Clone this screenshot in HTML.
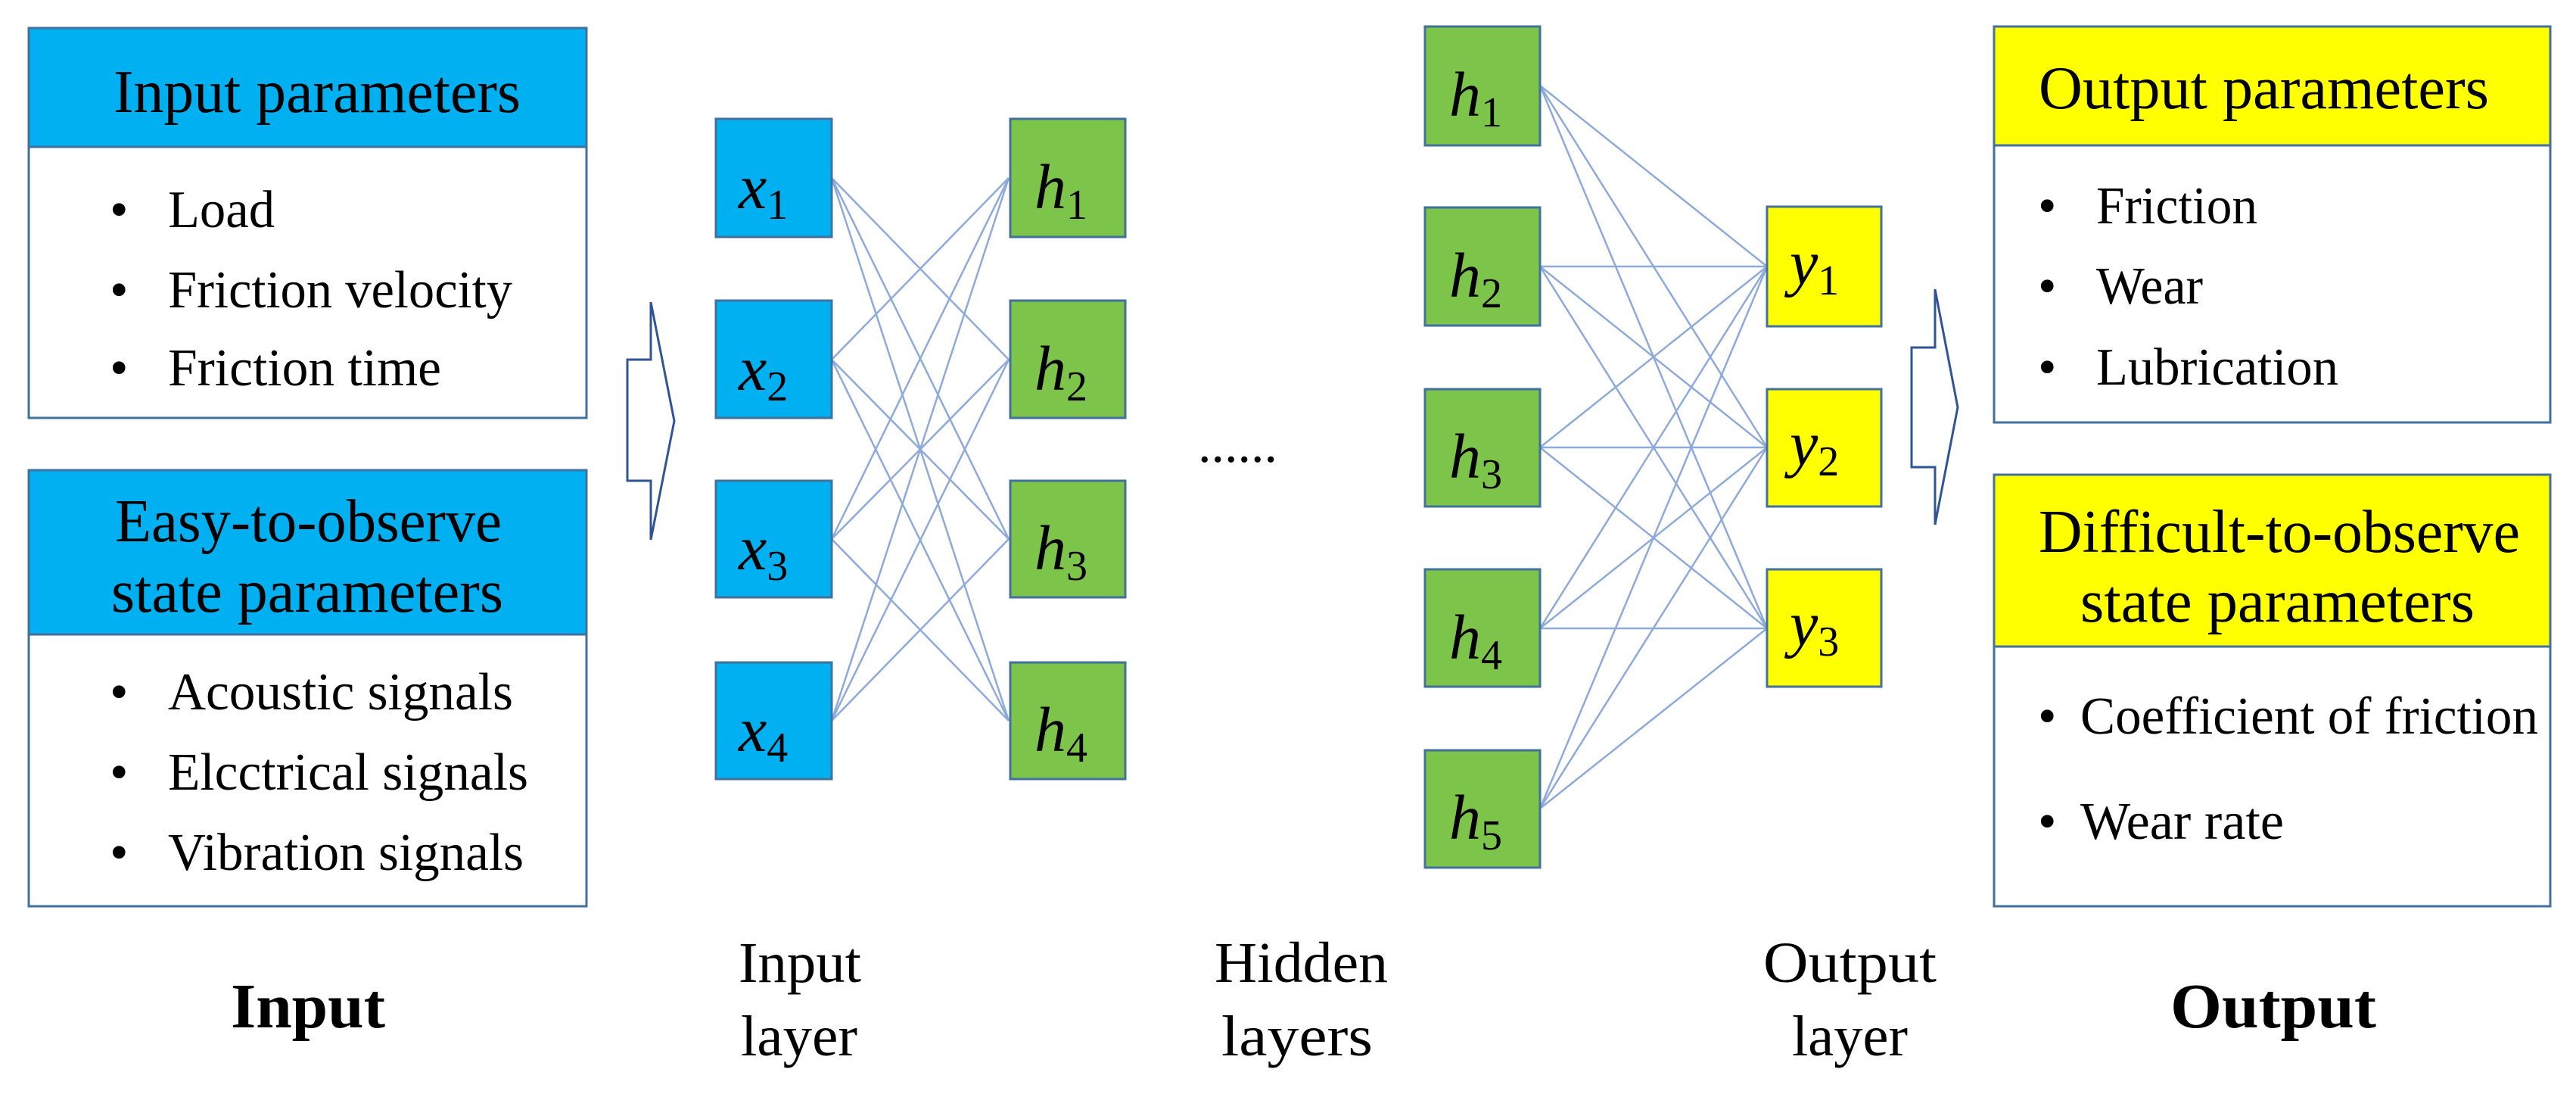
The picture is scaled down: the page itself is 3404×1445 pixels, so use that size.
<!DOCTYPE html>
<html><head><meta charset="utf-8"><style>
html,body{margin:0;padding:0;background:#fff;font-family:"Liberation Serif","DejaVu Serif",serif;}
svg{display:block;}
svg text{font-family:"Liberation Serif","DejaVu Serif",serif !important;fill:#000;}
.m{font-style:italic;font-size:84px;}
.s{font-size:56px;font-style:normal;}
</style></head><body>
<svg width="3404" height="1445" viewBox="0 0 3404 1445" xmlns="http://www.w3.org/2000/svg" font-family="Liberation Serif, DejaVu Serif, serif">
<g stroke="#8eaadb" stroke-width="2.5" fill="none">
<line x1="1099" y1="235" x2="1333" y2="475"/><line x1="1099" y1="235" x2="1333" y2="712"/><line x1="1099" y1="235" x2="1333" y2="952"/>
<line x1="1099" y1="475" x2="1333" y2="235"/><line x1="1099" y1="475" x2="1333" y2="712"/><line x1="1099" y1="475" x2="1333" y2="952"/>
<line x1="1099" y1="712" x2="1333" y2="235"/><line x1="1099" y1="712" x2="1333" y2="475"/><line x1="1099" y1="712" x2="1333" y2="952"/>
<line x1="1099" y1="952" x2="1333" y2="235"/><line x1="1099" y1="952" x2="1333" y2="475"/><line x1="1099" y1="952" x2="1333" y2="712"/>
<line x1="2035" y1="113" x2="2335" y2="352"/><line x1="2035" y1="113" x2="2335" y2="591"/><line x1="2035" y1="113" x2="2335" y2="830"/>
<line x1="2035" y1="352" x2="2335" y2="352"/><line x1="2035" y1="352" x2="2335" y2="591"/><line x1="2035" y1="352" x2="2335" y2="830"/>
<line x1="2035" y1="591" x2="2335" y2="352"/><line x1="2035" y1="591" x2="2335" y2="591"/><line x1="2035" y1="591" x2="2335" y2="830"/>
<line x1="2035" y1="830" x2="2335" y2="352"/><line x1="2035" y1="830" x2="2335" y2="591"/><line x1="2035" y1="830" x2="2335" y2="830"/>
<line x1="2035" y1="1068" x2="2335" y2="352"/><line x1="2035" y1="1068" x2="2335" y2="591"/><line x1="2035" y1="1068" x2="2335" y2="830"/>
</g>
<g stroke="#41719c" stroke-width="3">
<rect x="38" y="37" width="737" height="515" fill="#fff"/>
<rect x="38" y="37" width="737" height="157" fill="#00b0f0"/>
<rect x="38" y="621" width="737" height="576" fill="#fff"/>
<rect x="38" y="621" width="737" height="217" fill="#00b0f0"/>
<rect x="2635" y="35" width="735" height="523" fill="#fff"/>
<rect x="2635" y="35" width="735" height="157" fill="#ffff00"/>
<rect x="2635" y="627" width="735" height="570" fill="#fff"/>
<rect x="2635" y="627" width="735" height="227" fill="#ffff00"/>
<g fill="#00b0f0">
<rect x="946" y="157" width="153" height="156"/><rect x="946" y="397" width="153" height="155"/>
<rect x="946" y="635" width="153" height="154"/><rect x="946" y="875" width="153" height="154"/>
</g>
<g fill="#7dc44a">
<rect x="1335" y="157" width="152" height="156"/><rect x="1335" y="397" width="152" height="155"/>
<rect x="1335" y="635" width="152" height="154"/><rect x="1335" y="875" width="152" height="154"/>
<rect x="1883" y="35" width="152" height="157"/><rect x="1883" y="274" width="152" height="156"/>
<rect x="1883" y="514" width="152" height="155"/><rect x="1883" y="752" width="152" height="155"/>
<rect x="1883" y="991" width="152" height="155"/>
</g>
<g fill="#ffff00">
<rect x="2335" y="273" width="151" height="158"/><rect x="2335" y="514" width="151" height="155"/>
<rect x="2335" y="752" width="151" height="155"/>
</g>
</g>
<g fill="#fff" stroke="#2f5597" stroke-width="3" stroke-linejoin="miter">
<polygon points="829,475 860,475 860,399 891,556 860,713 860,635 829,635"/>
<polygon points="2526,459 2557,459 2557,382 2587,538 2557,693 2557,617 2526,617"/>
</g>
<g font-family="Liberation Serif, DejaVu Serif, serif">
<text x="976" y="275" class="m">x<tspan class="s" dy="14">1</tspan></text>
<text x="976" y="515" class="m">x<tspan class="s" dy="14">2</tspan></text>
<text x="976" y="752" class="m">x<tspan class="s" dy="14">3</tspan></text>
<text x="976" y="992" class="m">x<tspan class="s" dy="14">4</tspan></text>
<text x="1367" y="275" class="m">h<tspan class="s" dy="14">1</tspan></text>
<text x="1367" y="515" class="m">h<tspan class="s" dy="14">2</tspan></text>
<text x="1367" y="752" class="m">h<tspan class="s" dy="14">3</tspan></text>
<text x="1367" y="992" class="m">h<tspan class="s" dy="14">4</tspan></text>
<text x="1915" y="153" class="m">h<tspan class="s" dy="14">1</tspan></text>
<text x="1915" y="392" class="m">h<tspan class="s" dy="14">2</tspan></text>
<text x="1915" y="631" class="m">h<tspan class="s" dy="14">3</tspan></text>
<text x="1915" y="870" class="m">h<tspan class="s" dy="14">4</tspan></text>
<text x="1915" y="1108" class="m">h<tspan class="s" dy="14">5</tspan></text>
<text x="2365" y="375" class="m">y<tspan class="s" dy="14">1</tspan></text>
<text x="2365" y="614" class="m">y<tspan class="s" dy="14">2</tspan></text>
<text x="2365" y="852" class="m">y<tspan class="s" dy="14">3</tspan></text>
</g>
<g font-size="80" font-family="Liberation Serif, DejaVu Serif, serif">
<text x="150" y="148" textLength="538" lengthAdjust="spacingAndGlyphs">Input parameters</text>
<text x="152" y="715" textLength="511" lengthAdjust="spacingAndGlyphs">Easy-to-observe</text>
<text x="147" y="808" textLength="518" lengthAdjust="spacingAndGlyphs">state parameters</text>
<text x="2694" y="143" textLength="595" lengthAdjust="spacingAndGlyphs">Output parameters</text>
<text x="2694" y="729" textLength="636" lengthAdjust="spacingAndGlyphs">Difficult-to-observe</text>
<text x="2749" y="821" textLength="521" lengthAdjust="spacingAndGlyphs">state parameters</text>
</g>
<g font-size="70" font-family="Liberation Serif, DejaVu Serif, serif">
<text x="145" y="300">•</text><text x="222" y="300" textLength="141" lengthAdjust="spacingAndGlyphs">Load</text>
<text x="145" y="406">•</text><text x="222" y="406" textLength="455" lengthAdjust="spacingAndGlyphs">Friction velocity</text>
<text x="145" y="509">•</text><text x="222" y="509" textLength="361" lengthAdjust="spacingAndGlyphs">Friction time</text>
<text x="145" y="937">•</text><text x="222" y="937" textLength="456" lengthAdjust="spacingAndGlyphs">Acoustic signals</text>
<text x="145" y="1043">•</text><text x="222" y="1043" textLength="476" lengthAdjust="spacingAndGlyphs">Elcctrical signals</text>
<text x="145" y="1149">•</text><text x="222" y="1149" textLength="470" lengthAdjust="spacingAndGlyphs">Vibration signals</text>
<text x="2693" y="295">•</text><text x="2770" y="295" textLength="213" lengthAdjust="spacingAndGlyphs">Friction</text>
<text x="2693" y="401">•</text><text x="2770" y="401" textLength="141" lengthAdjust="spacingAndGlyphs">Wear</text>
<text x="2693" y="508">•</text><text x="2770" y="508" textLength="320" lengthAdjust="spacingAndGlyphs">Lubrication</text>
<text x="2693" y="969">•</text><text x="2749" y="969" textLength="605" lengthAdjust="spacingAndGlyphs">Coefficient of friction</text>
<text x="2693" y="1108">•</text><text x="2749" y="1108" textLength="269" lengthAdjust="spacingAndGlyphs">Wear rate</text>
<text x="1583" y="610">......</text>
</g>
<g font-size="76" font-family="Liberation Serif, DejaVu Serif, serif">
<text x="976" y="1297" textLength="162" lengthAdjust="spacingAndGlyphs">Input</text>
<text x="979" y="1394" textLength="154" lengthAdjust="spacingAndGlyphs">layer</text>
<text x="1605" y="1297" textLength="229" lengthAdjust="spacingAndGlyphs">Hidden</text>
<text x="1614" y="1394" textLength="200" lengthAdjust="spacingAndGlyphs">layers</text>
<text x="2330" y="1297" textLength="229" lengthAdjust="spacingAndGlyphs">Output</text>
<text x="2368" y="1394" textLength="153" lengthAdjust="spacingAndGlyphs">layer</text>
</g>
<g font-size="84" font-weight="bold" font-family="Liberation Serif, DejaVu Serif, serif">
<text x="305" y="1357" textLength="204" lengthAdjust="spacingAndGlyphs">Input</text>
<text x="2868" y="1357" textLength="272" lengthAdjust="spacingAndGlyphs">Output</text>
</g>
</svg>
</body></html>
